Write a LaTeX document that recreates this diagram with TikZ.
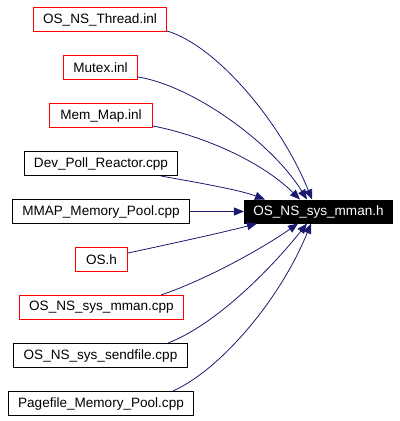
\documentclass[tikz,border=0pt]{standalone}
\usepackage{fontspec}
\setmainfont{Liberation Sans}
\usetikzlibrary{arrows.meta,calc}
\definecolor{edgeblue}{RGB}{25,25,112}
\definecolor{boxred}{RGB}{255,0,0}
\begin{document}
\begin{tikzpicture}[x=1bp,y=-1bp,
  box/.style={rectangle,draw,line width=1bp,inner sep=0pt,minimum height=24bp,font=\fontsize{13.6}{15}\selectfont},
  redbox/.style={box,color=boxred,text=black},
  blackbox/.style={box,color=black},
  tgt/.style={rectangle,draw=black,fill=black,line width=1bp,text=white,inner sep=0pt,minimum width=148bp,minimum height=23bp,font=\fontsize{13.6}{15}\selectfont},
  dep/.style={color=edgeblue,line width=0.8bp,-{Triangle[length=10bp,width=8bp]}}]
\useasboundingbox (0,0) rectangle (400,421);
\node[redbox,minimum width=133bp] (n1) at (100,19.5) {OS\_NS\_Thread.inl};
\node[redbox,minimum width=74bp] (n2) at (100.5,67.5) {Mutex.inl};
\node[redbox,minimum width=103bp] (n3) at (101,115.5) {Mem\_Map.inl};
\node[blackbox,minimum width=153bp] (n4) at (101,163.5) {Dev\_Poll\_Reactor.cpp};
\node[blackbox,minimum width=177bp] (n5) at (101,211.5) {MMAP\_Memory\_Pool.cpp};
\node[redbox,minimum width=52bp] (n6) at (101.5,259.5) {OS.h};
\node[redbox,minimum width=164bp] (n7) at (101.5,307.5) {OS\_NS\_sys\_mman.cpp};
\node[blackbox,minimum width=174bp] (n8) at (100.5,355.5) {OS\_NS\_sys\_sendfile.cpp};
\node[blackbox,minimum width=185bp] (n9) at (101,403.5) {Pagefile\_Memory\_Pool.cpp};
\node[tgt] (t) at (318.5,211.5) {OS\_NS\_sys\_mman.h};
\draw[dep] ([yshift=1bp]n1.south east) .. controls (215,45) and (280,120) .. ([xshift=68bp]t.north west);
\draw[dep] ([yshift=3bp]n2.south east) .. controls (190,85) and (270,140) .. ([xshift=63bp]t.north west);
\draw[dep] ([yshift=2bp]n3.south east) .. controls (200,135) and (260,160) .. ([xshift=56bp]t.north west);
\draw[dep] ([xshift=-17bp]n4.south east) .. controls (200,183) and (240,190) .. ([xshift=21bp]t.north west);
\draw[dep] (n5.east) -- (t.west);
\draw[dep] ([yshift=-6bp]n6.north east) .. controls (170,244) and (225,232) .. ([xshift=13bp]t.south west);
\draw[dep] ([xshift=-23bp]n7.north east) .. controls (205,280) and (260,250) .. ([xshift=54bp]t.south west);
\draw[dep] ([xshift=-20bp]n8.north east) .. controls (215,325) and (270,270) .. ([xshift=63bp]t.south west);
\draw[dep] ([xshift=-21bp]n9.north east) .. controls (220,370) and (280,300) .. ([xshift=67bp]t.south west);
\end{tikzpicture}
\end{document}
